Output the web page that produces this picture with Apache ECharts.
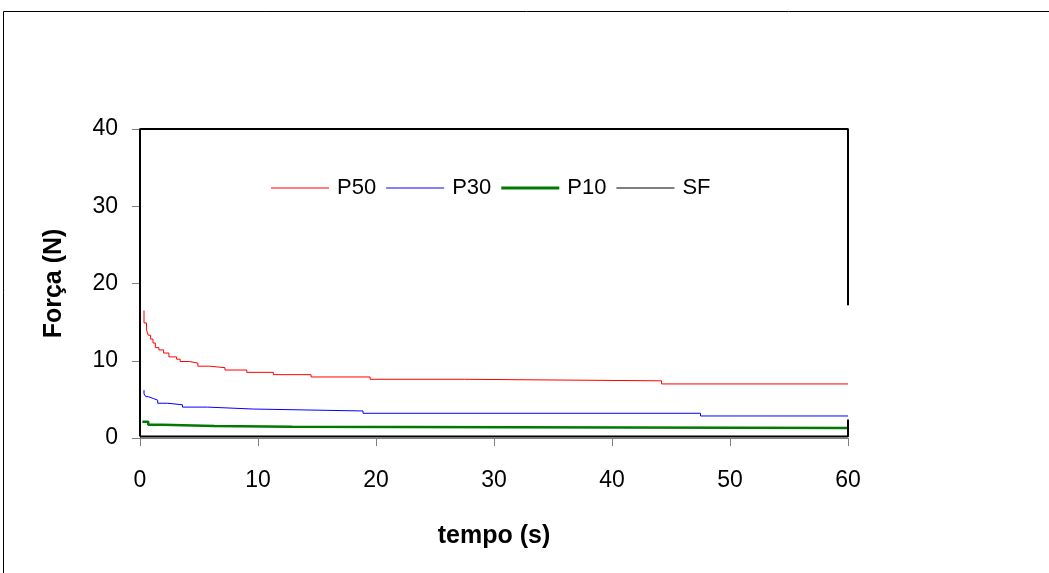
<!DOCTYPE html>
<html>
<head>
<meta charset="utf-8">
<script src="https://cdn.jsdelivr.net/npm/echarts@6/dist/echarts.min.js"></script>
<style>
  html, body { margin: 0; padding: 0; background: #fff; }
  #chart { width: 1049px; height: 573px; }
</style>
</head>
<body>
<div id="chart"></div>
<script>
// ---- data ----
const xTicks = [0, 10, 20, 30, 40, 50, 60];
const yTicks = [0, 10, 20, 30, 40];

// each (time, force) pair: the force level that starts at that time (step curve)
const p50Time  = [0.34, 0.34, 0.55, 0.7, 0.9, 1.1, 1.3, 1.6, 2.0, 2.45, 3.1, 3.4, 4.2, 4.9, 5.9, 7.2, 9.05, 11.3, 14.5, 19.5, 27.5, 44.2, 60];
const p50Force = [16.5, 14.9, 14.0, 13.3, 12.8, 12.3, 11.7, 11.4, 11.0, 10.5, 10.2, 9.9, 9.7, 9.3, 9.1, 8.8, 8.5, 8.2, 7.9, 7.6, 7.4, 7.0, 7.0];

const p30Time  = [0.34, 0.34, 0.5, 0.7, 1.15, 1.5, 2.35, 3.6, 5.7, 9.6, 18.9, 47.5, 60];
const p30Force = [6.2, 5.7, 5.35, 5.1, 4.9, 4.5, 4.3, 4.0, 3.75, 3.5, 3.2, 2.85, 2.85];

const p10Time  = [0.2, 0.7, 1.9, 6.3, 12.9, 60];
const p10Force = [2.1, 1.7, 1.55, 1.46, 1.3, 1.2];

// SF runs off the top of the scale (shown clipped at 40); null marks a gap
const sfTime  = [0, 0, 60, 60, null, 60, 60, 0];
const sfForce = [0.2, 40, 40, 17.2, null, 2.4, 0.2, 0.2];

const seriesNames = ['P50', 'P30', 'P10', 'SF'];

// ---- build ----
function stepPairs(t, f) {
  const out = [];
  for (let i = 0; i < t.length; i++) {
    if (i > 0) out.push([t[i], f[i - 1]]);
    out.push([t[i], f[i]]);
  }
  return out;
}
function pairs(t, f) {
  return t.map((v, i) => (v === null || f[i] === null) ? ['-', '-'] : [v, f[i]]);
}

const FONT = 'Arial, "Liberation Sans", sans-serif';
const colors = { P50: '#ff0000', P30: '#0000ff', P10: '#007a00', SF: '#000000' };
const thinIcon = 'path://M0,0H58V1H0Z';
const thickIcon = 'path://M0,0H58V3H0Z';
const legendIcons = { P50: thinIcon, P30: thinIcon, P10: thickIcon, SF: thinIcon };

const chart = echarts.init(document.getElementById('chart'), null, { renderer: 'canvas' });

chart.setOption({
  animation: false,
  backgroundColor: '#ffffff',
  graphic: [{
    type: 'rect', silent: true, z: -1,
    shape: { x: 3.5, y: 11.5, width: 1200, height: 1000 },
    style: { fill: 'none', stroke: '#000', lineWidth: 1 }
  }],
  grid: { left: 140, right: 201, top: 129, bottom: 135, containLabel: false },
  legend: {
    left: 271, top: 177, padding: 0,
    itemWidth: 58, itemHeight: 13, itemGap: 10,
    symbolKeepAspect: true,
    itemStyle: { borderWidth: 0 },
    textStyle: { fontFamily: FONT, fontSize: 22, color: '#000', padding: [0, 0, 0, 3] },
    data: seriesNames.map(n => ({ name: n, icon: legendIcons[n] }))
  },
  xAxis: {
    type: 'value', min: 0, max: 60, interval: 10,
    name: 'tempo (s)', nameLocation: 'middle', nameGap: 86,
    nameTextStyle: { fontFamily: FONT, fontSize: 25, fontWeight: 'bold', color: '#000' },
    axisLine: { show: true, lineStyle: { color: '#808080', width: 1 } },
    axisTick: { show: true, length: 8, lineStyle: { color: '#808080' } },
    axisLabel: { fontFamily: FONT, fontSize: 23, color: '#000', margin: 31,
      formatter: v => xTicks.includes(v) ? String(v) : '' },
    splitLine: { show: false }
  },
  yAxis: {
    type: 'value', min: 0, max: 40, interval: 10,
    name: 'Força (N)', nameLocation: 'middle', nameGap: 73,
    nameTextStyle: { fontFamily: FONT, fontSize: 25, fontWeight: 'bold', color: '#000' },
    axisLine: { show: true, lineStyle: { color: '#808080', width: 1 } },
    axisTick: { show: true, length: 8, lineStyle: { color: '#808080' } },
    axisLabel: { fontFamily: FONT, fontSize: 23, color: '#000', margin: 22,
      formatter: v => yTicks.includes(v) ? String(v) : '' },
    splitLine: { show: false }
  },
  series: [
    { name: 'P50', type: 'line', symbol: 'none', clip: false,
      lineStyle: { color: colors.P50, width: 1 }, itemStyle: { color: colors.P50 },
      data: stepPairs(p50Time, p50Force) },
    { name: 'P30', type: 'line', symbol: 'none', clip: false,
      lineStyle: { color: colors.P30, width: 1 }, itemStyle: { color: colors.P30 },
      data: stepPairs(p30Time, p30Force) },
    { name: 'P10', type: 'line', symbol: 'none', clip: false,
      lineStyle: { color: colors.P10, width: 2.5 }, itemStyle: { color: colors.P10 },
      data: stepPairs(p10Time, p10Force) },
    { name: 'SF', type: 'line', symbol: 'none', clip: false, connectNulls: false,
      lineStyle: { color: colors.SF, width: 2 }, itemStyle: { color: colors.SF },
      data: pairs(sfTime, sfForce) }
  ]
});
</script>
</body>
</html>
